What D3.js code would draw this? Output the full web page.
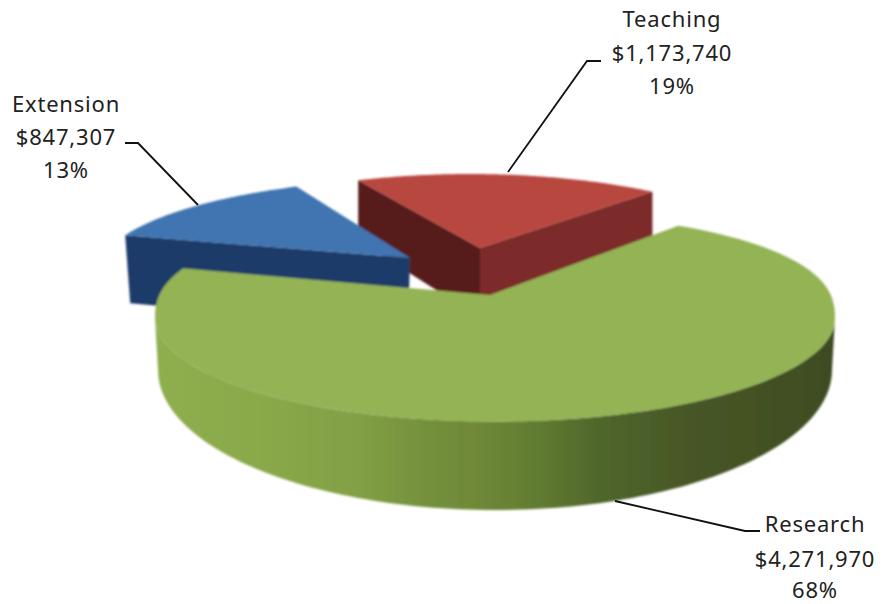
<!DOCTYPE html>
<html><head><meta charset="utf-8">
<script src="https://cdn.jsdelivr.net/npm/d3@7/dist/d3.min.js"></script>
<style>html,body{margin:0;padding:0;background:#fff}svg{display:block}</style>
</head><body><div id="chart"></div>
<script>
// ---- data ----
const categories = ["Research", "Extension", "Teaching"];
const amounts = [4271970, 847307, 1173740];
const percentLabels = ["68%", "13%", "19%"];

// ---- drawing set-up (geometry and style, not data) ----
const W = 884, H = 604, rad = Math.PI / 180;
const shapes = {
  Research: { cx: 495, cy: 318, rx: 340, ryBack: 106.5, ryFront: 103.5, power: 0.83,
              apex: [490, 295], view: [32.6, 293.5], top: "#93b355" },
  Extension: { cx: 440, cy: 270, rx: 340, ryBack: 92, ryFront: 92, power: 1,
              apex: [410, 258], view: [-67.8, -25], top: "#3f74b1" },
  Teaching: { cx: 470, cy: 284, rx: 335, ryBack: 110, ryFront: 110, power: 1,
              apex: [480, 248], view: [-19.5, 33], top: "#b8463f" }
};
const labelSpots = {
  Research: { x: 815, y: [532, 567, 598], leader: [[615, 501], [745, 531], [760, 531]] },
  Extension: { x: 66, y: [112, 145, 178], leader: [[125, 143], [138, 143], [198, 205]] },
  Teaching: { x: 672, y: [27, 61, 94], leader: [[601, 61], [587, 61], [508, 172]] }
};
const sideStops = [[0, "#8fae4f"], [0.15, "#8aa94a"], [0.3, "#82a044"], [0.4, "#74903c"],
                   [0.48, "#6e8838"], [0.57, "#607a30"], [0.65, "#50672c"],
                   [0.8, "#465526"], [0.95, "#424f22"], [1, "#3d4b20"]];

const svg = d3.select("#chart").append("svg").attr("width", W).attr("height", H);
const defs = svg.append("defs");
defs.append("filter").attr("id", "soft").append("feGaussianBlur").attr("stdDeviation", 0.8);
defs.append("linearGradient").attr("id", "side").attr("gradientUnits", "userSpaceOnUse")
  .attr("x1", 155).attr("x2", 835).attr("y1", 0).attr("y2", 0)
  .selectAll("stop").data(sideStops).join("stop")
  .attr("offset", d => d[0]).attr("stop-color", d => d[1]);

const pie = d3.pie().sort(null).value(d => d.amount);
const slices = pie(categories.map((c, i) => ({ name: c, amount: amounts[i], pct: percentLabels[i] })));
const line = d3.line();

function rimPoint(s, deg) {
  const t = deg * rad, c = Math.cos(t);
  const dy = c >= 0 ? s.ryBack * Math.pow(c, s.power) : s.ryFront * c;
  return [s.cx + s.rx * Math.sin(t), s.cy - dy];
}
function rim(s, from, to, n = 120) {
  const a = d3.scaleLinear().domain([0, n]).range([from, to]);
  return d3.range(n + 1).map(i => rimPoint(s, a(i)));
}
const shift = (p, dx, dy) => [p[0] + dx, p[1] + dy];

const g = svg.append("g").attr("filter", "url(#soft)");
const byName = Object.fromEntries(slices.map(d => [d.data.name, d]));

function topFace(d) {
  const s = shapes[d.data.name];
  // slice angles come from d3.pie, warped into the foreshortened view of this picture
  const warp = d3.scaleLinear().domain([d.startAngle, d.endAngle]).range(s.view);
  return [s.apex, ...rim(s, warp(d.startAngle), warp(d.endAngle))];
}

// Teaching: two cut walls, then the top
{
  const d = byName.Teaching, s = shapes.Teaching, face = topFace(d);
  const L = face[1], R = face[face.length - 1];
  g.append("path").attr("fill", "#571e1c")
    .attr("d", line([L, s.apex, shift(s.apex, 0, 70), shift(L, 0, 60)]) + "Z");
  g.append("path").attr("fill", "#7b2b2b")
    .attr("d", line([s.apex, R, shift(R, 0, 60), shift(s.apex, 0, 70)]) + "Z");
  g.append("path").attr("fill", s.top).attr("d", line(face) + "Z");
}
// Extension: front wall, then the top
{
  const d = byName.Extension, s = shapes.Extension, face = topFace(d);
  const L = face[1];
  g.append("path").attr("fill", "#1e3b68")
    .attr("d", line([L, s.apex, shift(s.apex, -2, 70), shift(L, 5, 68)]) + "Z");
  g.append("path").attr("fill", s.top).attr("d", line(face) + "Z");
}
// Research: curved side, then the top
{
  const d = byName.Research, s = shapes.Research;
  const floor = { cx: 495, cy: 370, rx: 337, ryBack: 140, ryFront: 140, power: 1 };
  const upper = rim(s, 90, 270), lower = rim(floor, 270, 90);
  g.append("path").attr("fill", "url(#side)").attr("d", line([...upper, ...lower]) + "Z");
  g.append("path").attr("fill", s.top).attr("d", line(topFace(d)) + "Z");
}

// Labels and leaders
const money = d3.format("$,");
slices.forEach(d => {
  const spot = labelSpots[d.data.name];
  svg.append("path").attr("fill", "none").attr("stroke", "#111").attr("stroke-width", 1.8)
    .attr("d", line(spot.leader));
  [d.data.name, money(d.data.amount), d.data.pct].forEach((t, i) => {
    svg.append("text").attr("x", spot.x).attr("y", spot.y[i]).attr("text-anchor", "middle")
      .attr("font-family", "'Noto Sans'").attr("font-size", 22).attr("letter-spacing", 0.8)
      .attr("fill", "#222").text(t);
  });
});
</script></body></html>
